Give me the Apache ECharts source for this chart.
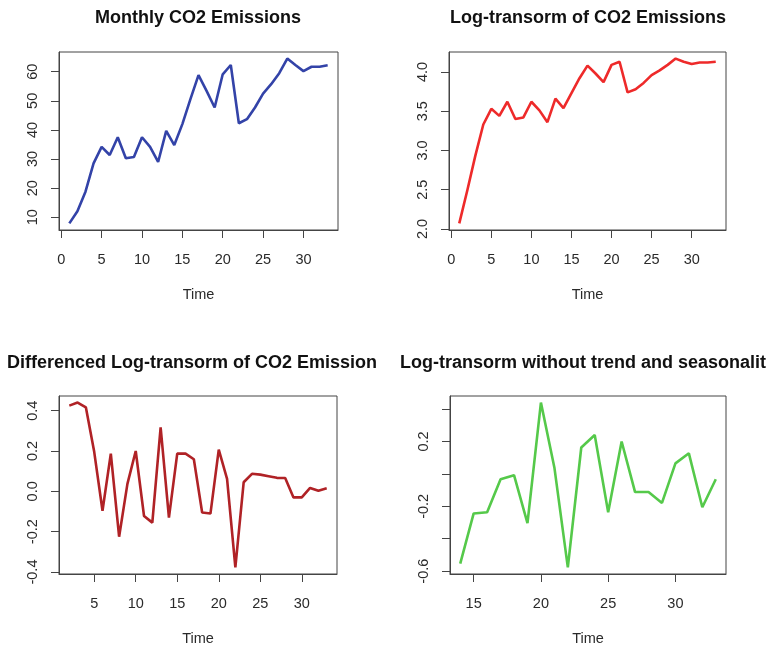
<!DOCTYPE html>
<html>
<head>
<meta charset="utf-8">
<title>CO2 Emissions</title>
<script src="https://cdn.jsdelivr.net/npm/echarts@6/dist/echarts.min.js"></script>
<style>
  html, body { margin: 0; padding: 0; background: #fff; }
  #chart { width: 766px; height: 651px; }
</style>
</head>
<body>
<div id="chart"></div>
<script>
// Time indices for each series
const timeFull = [1, 2, 3, 4, 5, 6, 7, 8, 9, 10, 11, 12, 13, 14, 15, 16, 17, 18, 19, 20, 21, 22, 23, 24, 25, 26, 27, 28, 29, 30, 31, 32, 33];
const timeDiff = [2, 3, 4, 5, 6, 7, 8, 9, 10, 11, 12, 13, 14, 15, 16, 17, 18, 19, 20, 21, 22, 23, 24, 25, 26, 27, 28, 29, 30, 31, 32, 33];
const timeDetrended = [14, 15, 16, 17, 18, 19, 20, 21, 22, 23, 24, 25, 26, 27, 28, 29, 30, 31, 32, 33];

// Monthly CO2 emissions
const emissions = [7.9, 12.1, 18.8, 28.5, 34.2, 31.4, 37.5, 30.3, 30.7, 37.5, 34.2, 29.0, 39.7, 34.8, 42.0, 50.6, 58.8,
  53.4, 47.7, 59.1, 62.3, 42.3, 43.7, 47.7, 52.5, 55.7, 59.5, 64.5, 62.3, 60.2, 61.7, 61.7, 62.2];

// Log-transformed emissions
const logEmissions = [2.07, 2.49, 2.93, 3.33, 3.53, 3.44, 3.62, 3.40, 3.42, 3.62, 3.51, 3.36, 3.66, 3.54, 3.73, 3.92, 4.08,
  3.98, 3.87, 4.09, 4.13, 3.74, 3.78, 3.86, 3.96, 4.02, 4.09, 4.17, 4.13, 4.10, 4.12, 4.12, 4.13];

// First differences of the log series
const diffLog = [0.425, 0.44, 0.416, 0.196, -0.096, 0.187, -0.225, 0.037, 0.2, -0.122, -0.155, 0.317, -0.13, 0.187, 0.187,
  0.159, -0.105, -0.11, 0.207, 0.062, -0.377, 0.045, 0.087, 0.083, 0.075, 0.067, 0.066, -0.03, -0.03, 0.017, 0.003, 0.015];

// Log series with trend and seasonality removed
const detrended = [-0.554, -0.244, -0.237, -0.033, -0.008, -0.304, 0.44, 0.04, -0.577, 0.163, 0.24, -0.237, 0.2, -0.112,
  -0.112, -0.179, 0.065, 0.127, -0.206, -0.033];

// Tick positions and labelled ticks
const xTicksFull = [0, 5, 10, 15, 20, 25, 30];
const xTicksDiff = [5, 10, 15, 20, 25, 30];
const xTicksDetrended = [15, 20, 25, 30];
const yTicksEmissions = [10, 20, 30, 40, 50, 60];
const yTicksLog = [2.0, 2.5, 3.0, 3.5, 4.0];
const yTicksDiff = [-0.4, -0.2, 0.0, 0.2, 0.4];
const yTicksDetrended = [-0.6, -0.4, -0.2, 0.0, 0.2, 0.4];
const yLabelsDetrended = [-0.6, -0.2, 0.2];

const titles = [
  'Monthly CO2 Emissions',
  'Log-transorm of CO2 Emissions',
  'Differenced Log-transorm of CO2 Emissions',
  'Log-transorm without trend and seasonality'
];

const FONT = '"Liberation Sans", Arial, sans-serif';
const AXIS_COLOR = '#444';
const TEXT_COLOR = '#2a2a2a';

// Axis limits padded by 4% of the data range on each side
function padded(values) {
  const lo = Math.min.apply(null, values), hi = Math.max.apply(null, values);
  const d = (hi - lo) * 0.04;
  return { min: lo - d, max: hi + d };
}

function pairs(xs, ys) { return xs.map((x, i) => [x, ys[i]]); }

function xAxisFor(gridIndex, xs, ticks) {
  const r = padded(xs);
  return {
    type: 'value', gridIndex, min: r.min, max: r.max,
    axisLine: { show: true, onZero: false, lineStyle: { color: AXIS_COLOR, width: 1 } },
    axisTick: { show: true, inside: false, length: 8, customValues: ticks, lineStyle: { color: AXIS_COLOR, width: 1 } },
    axisLabel: { customValues: ticks, margin: 22, fontSize: 14.5, color: TEXT_COLOR, fontFamily: FONT },
    splitLine: { show: false },
    name: 'Time', nameLocation: 'middle', nameGap: 57,
    nameTextStyle: { fontSize: 14.5, color: TEXT_COLOR, fontFamily: FONT }
  };
}

function yAxisFor(gridIndex, ys, ticks, labels, digits) {
  const r = padded(ys);
  return {
    type: 'value', gridIndex, min: r.min, max: r.max,
    axisLine: { show: true, onZero: false, lineStyle: { color: AXIS_COLOR, width: 1 } },
    axisTick: { show: true, inside: false, length: 8, customValues: ticks, lineStyle: { color: AXIS_COLOR, width: 1 } },
    axisLabel: {
      customValues: labels, rotate: 90, margin: 19, fontSize: 14.5, color: TEXT_COLOR, fontFamily: FONT,
      formatter: v => Number(v).toFixed(digits)
    },
    splitLine: { show: false }
  };
}

const gridStyle = { show: true, borderColor: AXIS_COLOR, borderWidth: 1, backgroundColor: 'transparent' };

const titleStyle = { fontSize: 18, fontWeight: 'bold', color: '#111', fontFamily: FONT };

const option = {
  animation: false,
  backgroundColor: '#fff',
  title: [
    { text: titles[0], left: 198, top: 9, textAlign: 'center', padding: 0, textStyle: titleStyle },
    { text: titles[1], left: 588, top: 9, textAlign: 'center', padding: 0, textStyle: titleStyle },
    { text: titles[2], left: 7, top: 354, padding: 0,
      textStyle: Object.assign({}, titleStyle, { width: 372, overflow: 'truncate', ellipsis: '' }) },
    { text: titles[3], left: 588, top: 354, textAlign: 'center', padding: 0, textStyle: titleStyle }
  ],
  grid: [
    Object.assign({ left: 59, top: 52, width: 279, height: 178 }, gridStyle),
    Object.assign({ left: 449, top: 52, width: 277, height: 178 }, gridStyle),
    Object.assign({ left: 59, top: 396, width: 278, height: 178 }, gridStyle),
    Object.assign({ left: 450, top: 396, width: 276, height: 178 }, gridStyle)
  ],
  xAxis: [
    xAxisFor(0, timeFull, xTicksFull),
    xAxisFor(1, timeFull, xTicksFull),
    xAxisFor(2, timeDiff, xTicksDiff),
    xAxisFor(3, timeDetrended, xTicksDetrended)
  ],
  yAxis: [
    yAxisFor(0, emissions, yTicksEmissions, yTicksEmissions, 0),
    yAxisFor(1, logEmissions, yTicksLog, yTicksLog, 1),
    yAxisFor(2, diffLog, yTicksDiff, yTicksDiff, 1),
    yAxisFor(3, detrended, yTicksDetrended, yLabelsDetrended, 1)
  ],
  series: [
    { type: 'line', xAxisIndex: 0, yAxisIndex: 0, data: pairs(timeFull, emissions), showSymbol: false,
      lineStyle: { color: '#3343a8', width: 2.6 } },
    { type: 'line', xAxisIndex: 1, yAxisIndex: 1, data: pairs(timeFull, logEmissions), showSymbol: false,
      lineStyle: { color: '#ee2a2a', width: 2.6 } },
    { type: 'line', xAxisIndex: 2, yAxisIndex: 2, data: pairs(timeDiff, diffLog), showSymbol: false,
      lineStyle: { color: '#b02226', width: 2.6 } },
    { type: 'line', xAxisIndex: 3, yAxisIndex: 3, data: pairs(timeDetrended, detrended), showSymbol: false,
      lineStyle: { color: '#55c94a', width: 2.6 } }
  ]
};

const chart = echarts.init(document.getElementById('chart'), null, { renderer: 'canvas' });
chart.setOption(option);
</script>
</body>
</html>
